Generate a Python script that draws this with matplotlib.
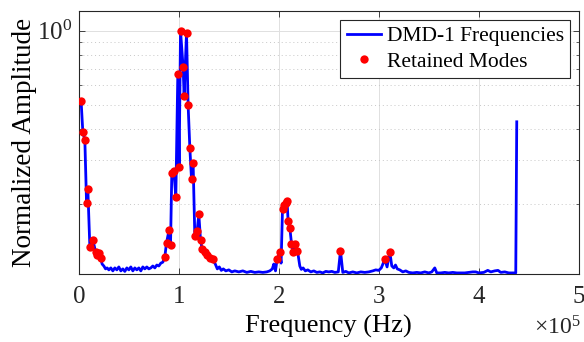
"""DMD-1 frequency spectrum with the retained modes marked."""

import matplotlib
matplotlib.use("Agg")
import matplotlib.pyplot as plt
from matplotlib.ticker import FixedLocator, FuncFormatter, LogLocator, NullFormatter

plt.rcParams.update({
    "font.family":       "serif",
    "font.serif":        ["Liberation Serif", "DejaVu Serif"],
    "mathtext.fontset":  "custom",
    "mathtext.rm":       "Liberation Serif",
    "mathtext.it":       "Liberation Serif:italic",
    "font.size":         17,
    "axes.linewidth":    0.8,
    "axes.edgecolor":    "0.15",
    "xtick.color":       "0.15",
    "ytick.color":       "0.15",
    "xtick.direction":   "in",
    "ytick.direction":   "in",
    "xtick.top":         True,
    "ytick.right":       True,
})

# ---------------------------------------------------------------------------
# Spectrum (frequency in Hz, normalised amplitude)
# ---------------------------------------------------------------------------
freq_hz = [
    2300, 4000, 6000, 7700, 9000, 11000, 14000, 16700, 18300, 20000, 21700,
    23300, 25000, 26700, 28300, 30000, 32000, 34000, 36000, 38000, 40000,
    42000, 44000, 46000, 48000, 50000, 52000, 54000, 56000, 58000, 60000,
    62000, 64000, 66000, 68000, 70000, 72000, 74000, 76000, 78000, 80000,
    82000, 84000,
    86000, 87700, 90300, 91700, 93000, 95000, 97000, 99000, 100300, 101700,
    104300, 105300, 107700, 109300, 111000, 112700, 114300, 116000, 118300,
    120000, 121700, 123300, 126000, 128300, 131000, 133700,
    136500, 138500, 140500, 142500, 144500, 147000, 150000, 153000, 156000,
    160000, 164000, 168000, 172000, 176000, 180000, 184000, 188000, 191000,
    193500, 195000, 196700,
    198300, 201000, 202300, 203700, 205000, 206700, 208300, 209300, 211000,
    212700, 214300, 216000, 218700,
    221000, 222500, 224300, 226500, 229000, 232000, 235000, 238000, 241000,
    244000, 247000, 250000, 253000, 256000, 259500, 261700, 264000, 267000,
    270000, 274000, 278000, 282000, 286000, 290000, 294000, 297000, 300000,
    302500, 306000, 308300, 311000, 313000, 315000, 316700, 318500, 321000,
    324000, 327000, 330000, 334000, 338000, 342000, 346000, 350000, 353000,
    356000, 358000, 362000, 366000, 370000, 374000, 378000, 382000, 386000,
    390000, 394000, 397000, 400000, 405000, 409000, 412000, 416000, 419300,
    422000, 426000, 430000, 434000, 437000, 438000,
]
amplitude = [
    0.517, 0.388, 0.362, 0.202, 0.229, 0.134, 0.143, 0.128, 0.124, 0.126, 0.121,
    0.114, 0.112, 0.109, 0.110, 0.108, 0.110, 0.107, 0.110, 0.108, 0.111,
    0.107, 0.109, 0.1065, 0.110, 0.108, 0.111, 0.107, 0.110, 0.108, 0.110,
    0.107, 0.111, 0.109, 0.111, 0.109, 0.110, 0.112, 0.110, 0.113, 0.112,
    0.115, 0.116,
    0.122, 0.139, 0.157, 0.136, 0.267, 0.272, 0.213, 0.670, 0.282, 1.000,
    0.710, 0.545, 0.980, 0.500, 0.337, 0.251, 0.291, 0.148, 0.155,
    0.181, 0.143, 0.131, 0.127, 0.124, 0.121, 0.119,
    0.114, 0.109, 0.111, 0.1075, 0.109, 0.107, 0.108, 0.106, 0.107,
    0.106, 0.107, 0.1055, 0.1065, 0.1055, 0.106, 0.1055, 0.106, 0.107,
    0.109, 0.114, 0.107,
    0.119, 0.127, 0.115, 0.190, 0.198, 0.202, 0.204, 0.170, 0.160,
    0.138, 0.128, 0.138, 0.129,
    0.112, 0.1085, 0.110, 0.107, 0.108, 0.106, 0.107, 0.1055, 0.106,
    0.105, 0.1065, 0.106, 0.1065, 0.1055, 0.106, 0.129, 0.1055, 0.1065,
    0.105, 0.106, 0.105, 0.106, 0.1055, 0.106, 0.107, 0.108, 0.1075,
    0.110, 0.119, 0.111, 0.128, 0.112, 0.110, 0.113, 0.109, 0.108,
    0.106, 0.107, 0.1055, 0.105, 0.1055, 0.105, 0.106, 0.105, 0.106,
    0.110, 0.105, 0.105, 0.1055, 0.105, 0.1055, 0.105, 0.105, 0.105,
    0.1055, 0.106, 0.106, 0.105, 0.1055, 0.1075, 0.106, 0.107, 0.1075,
    0.1055, 0.106, 0.105, 0.105, 0.105, 0.428,
]

# retained modes (subset of the spectrum points)
mode_hz = [
    2300, 4000, 6000, 7700, 9000, 11000, 14000, 16700, 18300, 20000, 21700,
    86000, 87700, 90300, 91700, 93000, 95000, 97000, 99000, 100300, 101700,
    104300, 105300, 107700, 109300, 111000, 112700, 114300, 116000, 118300,
    120000, 121700, 123300, 126000, 128300, 131000, 133700,
    198300, 201000, 203700, 205000, 206700, 208300, 209300, 211000,
    212700, 214300, 216000, 218700, 261700, 306000, 311000,
]
mode_amp = [
    0.517, 0.388, 0.362, 0.202, 0.229, 0.134, 0.143, 0.128, 0.124, 0.126, 0.121,
    0.122, 0.139, 0.157, 0.136, 0.267, 0.272, 0.213, 0.670, 0.282, 1.000,
    0.710, 0.545, 0.980, 0.500, 0.337, 0.251, 0.291, 0.148, 0.155,
    0.181, 0.143, 0.131, 0.127, 0.124, 0.121, 0.119,
    0.119, 0.127, 0.190, 0.198, 0.202, 0.204, 0.170, 0.160,
    0.138, 0.128, 0.138, 0.129, 0.129, 0.119, 0.128,
]

x_ticks = [0, 1e5, 2e5, 3e5, 4e5, 5e5]


def main() -> None:
    fig = plt.figure(figsize=(5.84, 3.42), dpi=100)
    ax = fig.add_axes([0.135, 0.199, 0.856, 0.769])

    ax.plot(freq_hz, amplitude, color="#0000FF", linewidth=2.0,
            label="DMD-1 Frequencies", zorder=3)
    ax.plot(mode_hz, mode_amp, linestyle="none", marker="o", markersize=6,
            color="#FF0000", markeredgewidth=0, label="Retained Modes",
            zorder=4)

    ax.set_yscale("log")
    ax.set_xlim(0, 5e5)
    ax.set_ylim(0.104, 1.2)

    ax.xaxis.set_major_locator(FixedLocator(x_ticks))
    ax.xaxis.set_major_formatter(FuncFormatter(lambda v, _: f"{v / 1e5:g}"))
    ax.yaxis.set_major_locator(LogLocator(base=10.0))
    ax.yaxis.set_minor_locator(LogLocator(base=10.0, subs=range(2, 10)))
    ax.yaxis.set_minor_formatter(NullFormatter())
    ax.tick_params(which="major", length=4, width=0.6, labelsize=18)
    ax.tick_params(which="minor", length=2, width=0.5)
    ax.tick_params(axis="x", pad=9)
    ax.tick_params(axis="y", pad=5)

    ax.grid(True, which="major", color="0.88", linewidth=0.7)
    ax.grid(True, which="minor", axis="y", color="0.78",
            linestyle=(0, (1, 3)), linewidth=0.7)
    ax.set_axisbelow(True)

    ax.set_xlabel("Frequency (Hz)", fontsize=19, labelpad=5)
    ax.set_ylabel("Normalized Amplitude", fontsize=19.5, labelpad=0)
    ax.text(1.003, -0.248, r"$\times10^{5}$", transform=ax.transAxes,
            ha="right", va="bottom", fontsize=17, color="0.15")

    leg = ax.legend(loc="upper right", fontsize=15.5, frameon=True,
                    fancybox=False, framealpha=1.0, edgecolor="0.15",
                    borderpad=0.3, handlelength=1.6, handletextpad=0.25,
                    labelspacing=0.25, borderaxespad=0.4)
    leg.get_frame().set_linewidth(0.8)

    fig.savefig("out.png", dpi=100)
    plt.close(fig)


if __name__ == "__main__":
    main()
